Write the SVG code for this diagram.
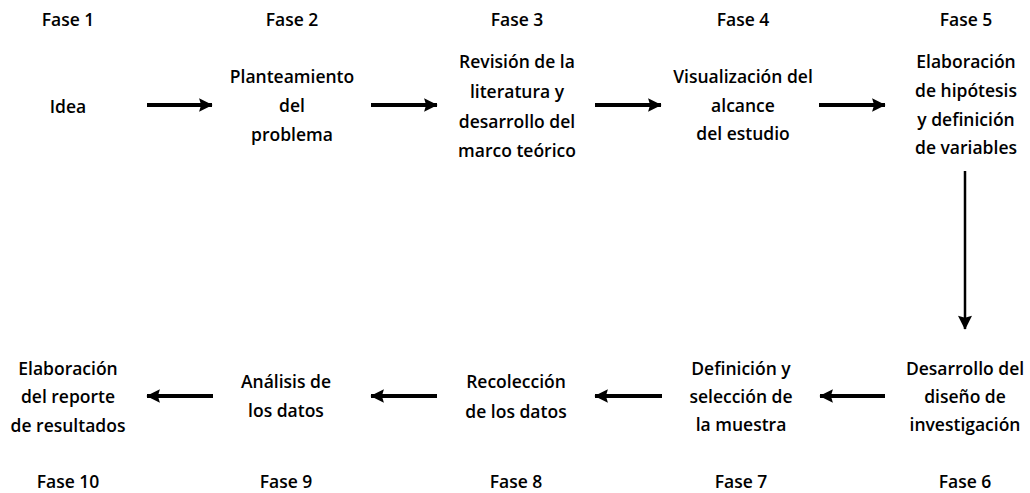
<svg xmlns="http://www.w3.org/2000/svg" width="1030" height="493" viewBox="0 0 1030 493">
<style>
text{font-family:"Open Sans","Noto Sans",sans-serif;font-size:17.5px;font-weight:600;fill:#000;text-anchor:middle}
.c{stroke:#000;stroke-width:4;fill:none}
</style>
<defs>
<marker id="ah" viewBox="0 0 10 10" refX="9.5" refY="5" markerWidth="4.3" markerHeight="3.4" markerUnits="strokeWidth" orient="auto">
<path d="M0,0 L10,5 L0,10 L1.5,5 Z" fill="#000"/>
</marker>
<marker id="ahv" viewBox="0 0 10 10" refX="9.5" refY="5" markerWidth="6.8" markerHeight="5.6" markerUnits="strokeWidth" orient="auto">
<path d="M0,0 L10,5 L0,10 L1.5,5 Z" fill="#000"/>
</marker>
</defs>
<rect width="1030" height="493" fill="#fff"/>
<g id="f1"><text x="68" y="26">Fase 1</text><text x="68" y="113">Idea</text></g>
<g id="f2"><text x="292" y="26">Fase 2</text><text x="292" y="83">Planteamiento</text><text x="292" y="112">del</text><text x="292" y="141">problema</text></g>
<g id="f3"><text x="517" y="26">Fase 3</text><text x="517" y="68">Revisión de la</text><text x="517" y="98">literatura y</text><text x="517" y="128">desarrollo del</text><text x="517" y="157">marco teórico</text></g>
<g id="f4"><text x="743" y="26">Fase 4</text><text x="743" y="83">Visualización del</text><text x="743" y="112">alcance</text><text x="743" y="140">del estudio</text></g>
<g id="f5"><text x="966" y="26">Fase 5</text><text x="966" y="68">Elaboración</text><text x="966" y="97">de hipótesis</text><text x="966" y="126">y definición</text><text x="966" y="154">de variables</text></g>
<g id="f6"><text x="965" y="488">Fase 6</text><text x="965" y="375">Desarrollo del</text><text x="965" y="403">diseño de</text><text x="965" y="431">investigación</text></g>
<g id="f7"><text x="741" y="488">Fase 7</text><text x="741" y="375">Definición y</text><text x="741" y="403">selección de</text><text x="741" y="431">la muestra</text></g>
<g id="f8"><text x="516" y="488">Fase 8</text><text x="516" y="388">Recolección</text><text x="516" y="418">de los datos</text></g>
<g id="f9"><text x="286" y="488">Fase 9</text><text x="286" y="388">Análisis de</text><text x="286" y="417">los datos</text></g>
<g id="f10"><text x="68" y="488">Fase 10</text><text x="68" y="375">Elaboración</text><text x="68" y="403">del reporte</text><text x="68" y="432">de resultados</text></g>
<g id="connectors">
<line class="c" x1="147" y1="105" x2="212" y2="105" marker-end="url(#ah)"/>
<line class="c" x1="371" y1="105" x2="437" y2="105" marker-end="url(#ah)"/>
<line class="c" x1="595" y1="105" x2="661" y2="105" marker-end="url(#ah)"/>
<line class="c" x1="819" y1="105" x2="885" y2="105" marker-end="url(#ah)"/>
<line x1="965" y1="171" x2="965" y2="329" stroke="#000" stroke-width="2.5" marker-end="url(#ahv)"/>
<line class="c" x1="213" y1="396" x2="147" y2="396" marker-end="url(#ah)"/>
<line class="c" x1="437" y1="396" x2="371" y2="396" marker-end="url(#ah)"/>
<line class="c" x1="662" y1="396" x2="595" y2="396" marker-end="url(#ah)"/>
<line class="c" x1="885" y1="396" x2="820" y2="396" marker-end="url(#ah)"/>
</g>
</svg>
